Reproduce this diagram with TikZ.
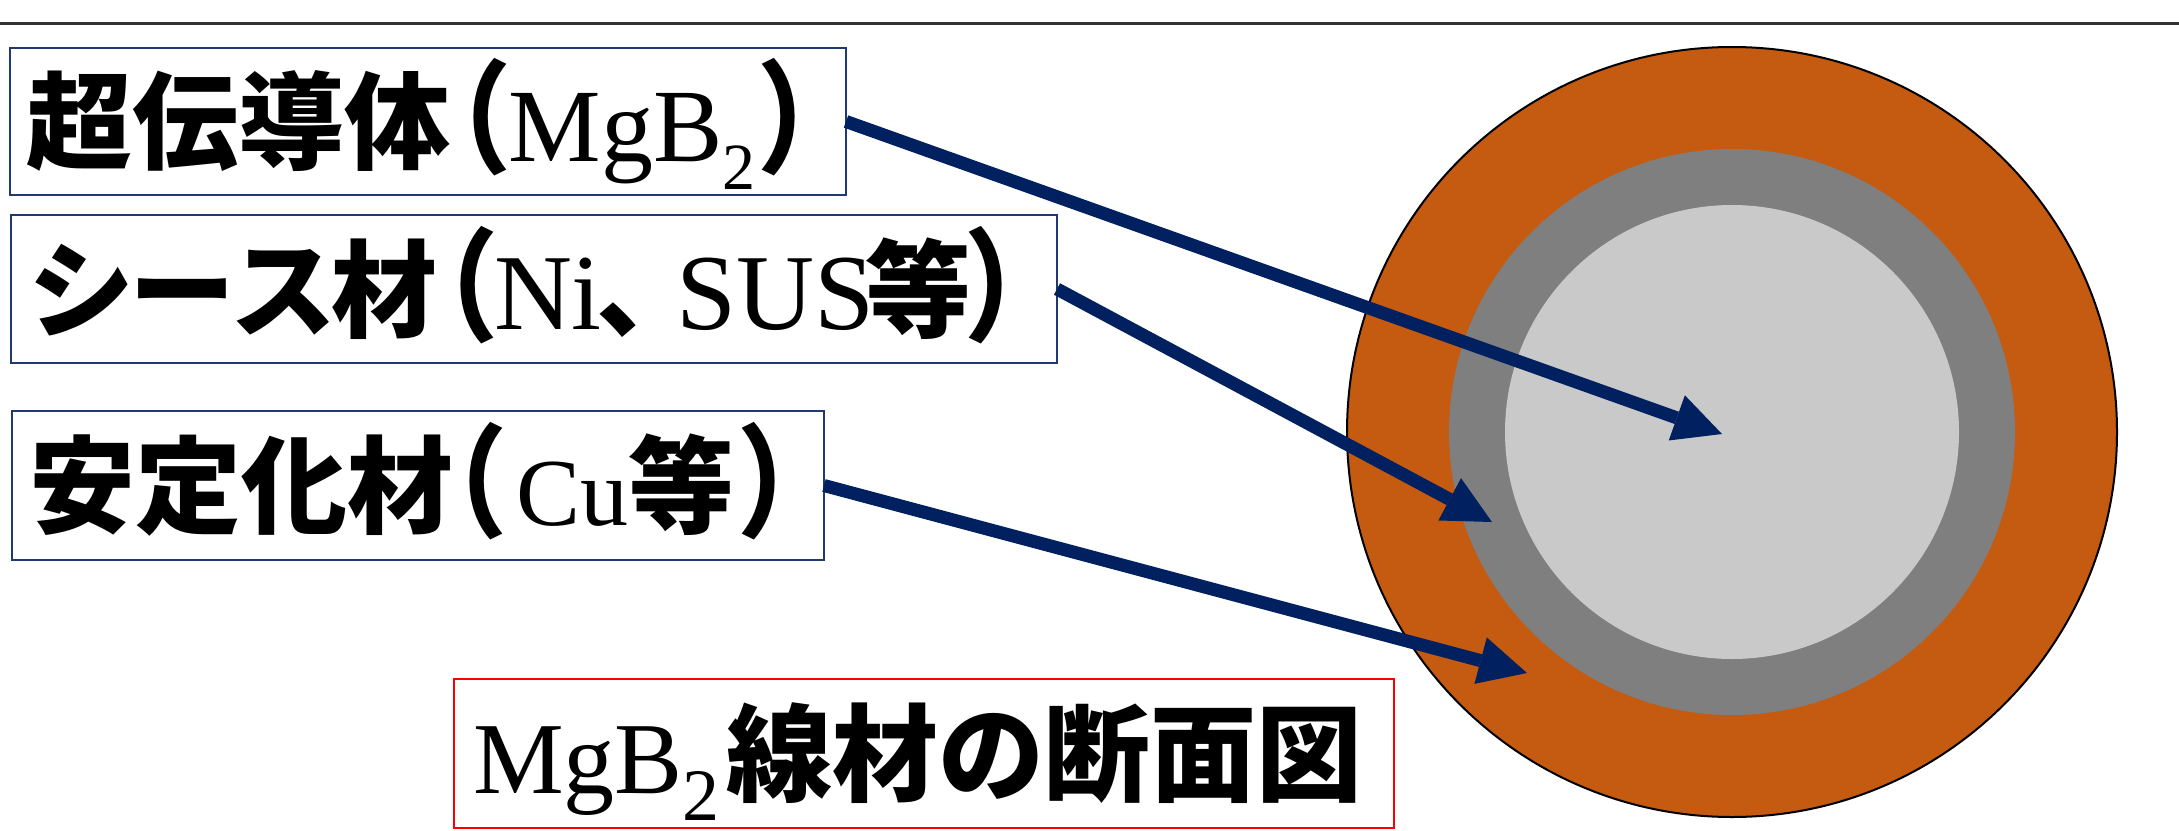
\documentclass[tikz,border=0pt]{standalone}
\usepackage{fontspec}
\usepackage{graphicx}
\usetikzlibrary{arrows.meta}
\setmainfont{Liberation Serif}
\newfontfamily\jp{Noto Sans CJK JP}
\newfontfamily\jpp[RawFeature=+palt]{Noto Sans CJK JP}
\definecolor{cuorange}{HTML}{C55A11}
\definecolor{sheathgray}{HTML}{7F7F7F}
\definecolor{coregray}{HTML}{C9C9C9}
\definecolor{navyarrow}{HTML}{002060}
\definecolor{boxblue}{HTML}{1F3A70}
\definecolor{boxred}{HTML}{FF0000}
\newcommand\J[1]{{\jp\bfseries #1}}
\newcommand\Jp[1]{\raisebox{-2pt}{\scalebox{1}[1.15]{\jpp\bfseries #1}}}
\newcommand\Lt[2][104]{{\fontsize{#1pt}{#1pt}\selectfont #2}}
\newcommand\Sbt[3]{\raisebox{-#2pt}{\fontsize{#1pt}{#1pt}\selectfont #3}}
\begin{document}
\begin{tikzpicture}[x=1pt,y=-1pt,
  lbl/.style={draw=boxblue, line width=2pt, anchor=north west, outer sep=0pt,
    inner xsep=17pt, inner ysep=0pt, align=left, text height=100pt, text depth=20pt,
    font=\fontsize{106pt}{106pt}\selectfont},
  ptr/.style={draw=navyarrow, line width=13pt,
    -{Triangle[length=48pt,width=48pt,line width=0pt]}}]
\useasboundingbox (0,0) rectangle (2179,830);
\draw[line width=2.5pt, black!80] (0,23.5) -- (2179,23.5);
% cross-section
\coordinate (c) at (1732,432);
\fill[cuorange, draw=black, line width=2pt] (c) circle[radius=385pt];
\fill[sheathgray] (c) circle[radius=283pt];
\fill[coregray] (c) circle[radius=227pt];
% labels
\node[lbl, text width=802pt, minimum height=147pt] (b1) at (10,48)
  {\J{超伝導体}\kern3pt\Jp{（}\kern2pt\Lt{MgB}\Sbt{66}{28}{2}\kern6pt\Jp{）}};
\node[lbl, text width=1012pt, minimum height=148pt] (b2) at (11,215)
  {\J{シ}\kern-5pt\J{ー}\kern-5pt\J{ス}\kern-5pt\J{材}\kern4pt\Jp{（}\kern0pt\Lt[108]{Ni}\kern-6pt\J{、}\kern-26pt\Lt[108]{SUS}\kern-9pt\J{等}\kern-2pt\Jp{）}};
\node[lbl, text width=778pt, minimum height=149pt] (b3) at (12,411)
  {\J{安定化材}\kern-3pt\Jp{（}\kern13pt\Lt[96]{Cu}\J{等}\kern8pt\Jp{）}};
\node[lbl, draw=boxred, line width=1.5pt, text width=906pt, minimum height=149pt] (b4) at (454,679)
  {\kern2pt\Lt[102]{MgB}\Sbt{74}{27}{2}\kern7pt\J{線材の断面図}};
% arrow tips
\coordinate (t1) at (1722,434);
\coordinate (t2) at (1492,522);
\coordinate (t3) at (1527,673);
\draw[ptr] (b1.east) -- (t1);
\draw[ptr] (b2.east) -- (t2);
\draw[ptr] (b3.east) -- (t3);
\end{tikzpicture}
\end{document}
